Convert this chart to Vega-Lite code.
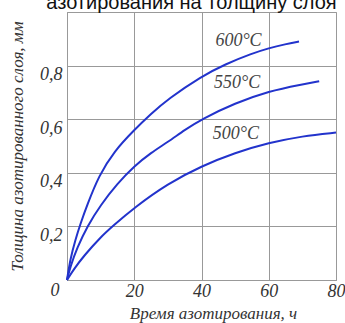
{
  "$schema": "https://vega.github.io/schema/vega-lite/v6.json",
  "autosize": {"type": "none"},
  "width": 269,
  "height": 268,
  "padding": {"left": 67, "top": 12, "right": 9, "bottom": 43},
  "background": "white",
  "title": {
    "text": "азотирования на толщину слоя",
    "font": "Liberation Sans",
    "fontSize": 20,
    "fontWeight": "normal",
    "color": "#111",
    "anchor": "middle",
    "frame": "group",
    "baseline": "alphabetic",
    "offset": 0,
    "dy": 17,
    "dx": -10
  },
  "config": {
    "view": {"stroke": "#999", "strokeWidth": 1}
  },
  "datasets": {
    "curves": [
      {"temp": "600°C", "hours": 0, "depth": 0},
      {"temp": "600°C", "hours": 1, "depth": 0.08},
      {"temp": "600°C", "hours": 2.5, "depth": 0.15},
      {"temp": "600°C", "hours": 4, "depth": 0.21},
      {"temp": "600°C", "hours": 6, "depth": 0.28},
      {"temp": "600°C", "hours": 9.5, "depth": 0.39},
      {"temp": "600°C", "hours": 14, "depth": 0.48},
      {"temp": "600°C", "hours": 20, "depth": 0.56},
      {"temp": "600°C", "hours": 25, "depth": 0.62},
      {"temp": "600°C", "hours": 30, "depth": 0.675},
      {"temp": "600°C", "hours": 40, "depth": 0.76},
      {"temp": "600°C", "hours": 47, "depth": 0.805},
      {"temp": "600°C", "hours": 55, "depth": 0.845},
      {"temp": "600°C", "hours": 60, "depth": 0.865},
      {"temp": "600°C", "hours": 65, "depth": 0.88},
      {"temp": "600°C", "hours": 69, "depth": 0.89},
      {"temp": "550°C", "hours": 0, "depth": 0},
      {"temp": "550°C", "hours": 1, "depth": 0.05},
      {"temp": "550°C", "hours": 3, "depth": 0.12},
      {"temp": "550°C", "hours": 6, "depth": 0.2},
      {"temp": "550°C", "hours": 10, "depth": 0.28},
      {"temp": "550°C", "hours": 15, "depth": 0.36},
      {"temp": "550°C", "hours": 20, "depth": 0.425},
      {"temp": "550°C", "hours": 25, "depth": 0.475},
      {"temp": "550°C", "hours": 30, "depth": 0.515},
      {"temp": "550°C", "hours": 35, "depth": 0.56},
      {"temp": "550°C", "hours": 40, "depth": 0.6},
      {"temp": "550°C", "hours": 50, "depth": 0.66},
      {"temp": "550°C", "hours": 60, "depth": 0.705},
      {"temp": "550°C", "hours": 70, "depth": 0.73},
      {"temp": "550°C", "hours": 75, "depth": 0.742},
      {"temp": "500°C", "hours": 0, "depth": 0},
      {"temp": "500°C", "hours": 2, "depth": 0.04},
      {"temp": "500°C", "hours": 5, "depth": 0.09},
      {"temp": "500°C", "hours": 10, "depth": 0.16},
      {"temp": "500°C", "hours": 13.5, "depth": 0.2},
      {"temp": "500°C", "hours": 20, "depth": 0.27},
      {"temp": "500°C", "hours": 30, "depth": 0.36},
      {"temp": "500°C", "hours": 40, "depth": 0.425},
      {"temp": "500°C", "hours": 50, "depth": 0.475},
      {"temp": "500°C", "hours": 60, "depth": 0.512},
      {"temp": "500°C", "hours": 70, "depth": 0.537},
      {"temp": "500°C", "hours": 80, "depth": 0.55}
    ],
    "labels": [
      {"temp": "600°C", "hours": 51, "depth": 0.893},
      {"temp": "550°C", "hours": 50.6, "depth": 0.734},
      {"temp": "500°C", "hours": 50.2, "depth": 0.544}
    ],
    "origin": [
      {"label": "0", "hours": 0, "depth": 0}
    ]
  },
  "layer": [
    {
      "data": {"name": "curves"},
      "mark": {"type": "line", "interpolate": "basis", "color": "#2233cc", "strokeWidth": 2},
      "encoding": {
        "x": {
          "field": "hours",
          "type": "quantitative",
          "scale": {"domain": [0, 80], "nice": false},
          "axis": {
            "values": [0, 20, 40, 60, 80],
            "labelExpr": "datum.value == 0 ? '' : datum.label",
            "title": "Время азотирования, ч",
            "titleFont": "Liberation Sans Narrow",
            "titleFontStyle": "italic",
            "titleFontWeight": "normal",
            "titleFontSize": 17,
            "titleColor": "#333",
            "titleX": 146,
            "titleY": 38,
            "titleBaseline": "alphabetic",
            "labelFont": "Liberation Sans Narrow",
            "labelFontStyle": "italic",
            "labelFontSize": 18,
            "labelColor": "#333",
            "labelPadding": 2,
            "labelFlush": false,
            "labelOverlap": false,
            "labelBound": false,
            "ticks": false,
            "domainColor": "#999",
            "gridColor": "#999",
            "gridOpacity": 1
          }
        },
        "y": {
          "field": "depth",
          "type": "quantitative",
          "scale": {"domain": [0, 1], "nice": false},
          "axis": {
            "values": [0, 0.2, 0.4, 0.6, 0.8],
            "labelExpr": "datum.value == 0 ? '' : replace(format(datum.value, '.1f'), '.', ',')",
            "title": "Толщина азотированного слоя, мм",
            "titleFont": "Liberation Sans Narrow",
            "titleFontStyle": "italic",
            "titleFontWeight": "normal",
            "titleFontSize": 17,
            "titleColor": "#333",
            "titleX": -45,
            "titleBaseline": "alphabetic",
            "labelFont": "Liberation Sans Narrow",
            "labelFontStyle": "italic",
            "labelFontSize": 18,
            "labelColor": "#333",
            "labelBaseline": "top",
            "labelPadding": 5,
            "labelFlush": false,
            "labelOverlap": false,
            "ticks": false,
            "domainColor": "#999",
            "gridColor": "#999",
            "gridOpacity": 1
          }
        },
        "detail": {"field": "temp", "type": "nominal"}
      }
    },
    {
      "data": {"name": "labels"},
      "mark": {"type": "text", "font": "Liberation Sans Narrow", "fontStyle": "italic", "fontSize": 18, "color": "#444", "align": "center", "baseline": "middle"},
      "encoding": {
        "x": {"field": "hours", "type": "quantitative"},
        "y": {"field": "depth", "type": "quantitative"},
        "text": {"field": "temp"}
      }
    },
    {
      "data": {"name": "origin"},
      "mark": {"type": "text", "font": "Liberation Sans Narrow", "fontStyle": "italic", "fontSize": 18, "color": "#333", "align": "center", "baseline": "top", "dx": -12, "dy": 2, "clip": false},
      "encoding": {
        "x": {"field": "hours", "type": "quantitative"},
        "y": {"field": "depth", "type": "quantitative"},
        "text": {"field": "label"}
      }
    }
  ]
}
